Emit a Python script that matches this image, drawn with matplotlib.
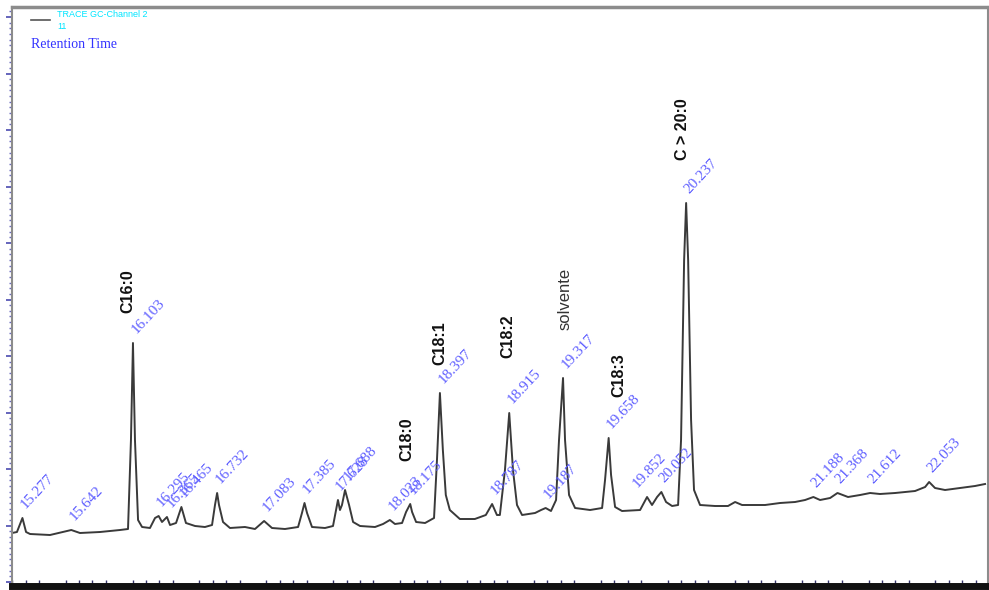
import matplotlib
matplotlib.use("Agg")
import matplotlib.pyplot as plt
from matplotlib.ticker import MultipleLocator, AutoMinorLocator, NullFormatter


# ============================ #
# Chromatogram trace
# ============================ #
trace_time = [
    15.199, 15.236, 15.277, 15.304, 15.334, 15.483, 15.642, 15.707, 15.857, 16.006,
    16.066, 16.088, 16.103, 16.118, 16.141, 16.171, 16.230, 16.268, 16.295, 16.320,
    16.357, 16.380, 16.425, 16.465, 16.499, 16.567, 16.641, 16.694, 16.716, 16.732,
    16.746, 16.776, 16.828, 16.940, 17.015, 17.083, 17.142, 17.239, 17.337, 17.366,
    17.385, 17.404, 17.441, 17.538, 17.598, 17.628, 17.635, 17.650, 17.665, 17.688,
    17.718, 17.748, 17.800, 17.912, 17.972, 18.023, 18.061, 18.114, 18.144, 18.175,
    18.189, 18.219, 18.286, 18.353, 18.375, 18.397, 18.419, 18.441, 18.471, 18.546,
    18.658, 18.740, 18.787, 18.823, 18.845, 18.883, 18.915, 18.943, 18.973, 19.011,
    19.108, 19.153, 19.187, 19.227, 19.265, 19.287, 19.317, 19.332, 19.362, 19.407,
    19.519, 19.609, 19.631, 19.658, 19.676, 19.706, 19.758, 19.893, 19.945, 19.982,
    20.020, 20.052, 20.087, 20.132, 20.177, 20.199, 20.222, 20.237, 20.252, 20.274,
    20.296, 20.341, 20.453, 20.550, 20.603, 20.655, 20.730, 20.827, 20.939, 21.051,
    21.126, 21.188, 21.238, 21.313, 21.368, 21.447, 21.537, 21.612, 21.686, 21.799,
    21.948, 22.023, 22.053, 22.097, 22.172, 22.284, 22.396, 22.471,
]
trace_signal = [
    49, 50, 64, 50, 48, 47, 52, 49, 50, 52,
    53, 142, 239, 142, 62, 55, 54, 64, 66, 60,
    65, 57, 59, 75, 59, 56, 55, 57, 77, 89,
    77, 60, 54, 55, 53, 61, 54, 53, 55, 69,
    79, 69, 55, 54, 56, 77, 82, 72, 77, 92,
    77, 60, 56, 55, 58, 62, 58, 59, 70, 78,
    70, 60, 59, 64, 122, 189, 132, 87, 72, 63,
    63, 67, 78, 67, 67, 112, 169, 112, 77, 67,
    69, 72, 74, 71, 82, 142, 204, 142, 87, 74,
    72, 74, 102, 144, 107, 75, 71, 72, 85, 77,
    85, 90, 80, 76, 77, 142, 322, 379, 322, 162,
    92, 77, 76, 76, 80, 77, 77, 77, 79, 80,
    82, 85, 82, 84, 89, 85, 87, 89, 88, 89,
    91, 95, 100, 94, 92, 94, 96, 98,
]

# Retention-time labels (blue) and the signal at each labelled apex
peak_times = [
    15.277, 15.642, 16.103, 16.295, 16.365, 16.465, 16.732, 17.083, 17.385, 17.628,
    17.688, 18.023, 18.175, 18.397, 18.787, 18.915, 19.187, 19.317, 19.658, 19.852,
    20.052, 20.237, 21.188, 21.368, 21.612, 22.053,
]
peak_heights = [
    64, 52, 239, 66, 65, 75, 89, 61, 79, 82,
    92, 62, 78, 189, 78, 169, 74, 204, 144, 85,
    90, 379, 85, 89, 89, 100,
]

# Component names (black) and where they are written
compounds = ["C16:0", "C18:0", "C18:1", "C18:2", "solvente", "C18:3", "C > 20:0"]
compound_bold = [True, True, True, True, False, True, True]
compound_pos = [
    (16.065, 269), (18.151, 121), (18.397, 217), (18.907, 224),
    (19.332, 252), (19.734, 185), (20.207, 422),
]

# ============================ #
# Figure                       #
# ============================ #
fig = plt.figure(figsize=(9.89, 5.90), dpi=100)
ax = fig.add_axes([12 / 989, 4 / 590, 976 / 989, 579 / 590])

ax.plot(trace_time, trace_signal, color="#3a3a3a", lw=1.4)

ax.set_xlim(15.199, 22.493)
ax.set_ylim(-4, 575)

# retention time labels
for t, h in zip(peak_times, peak_heights):
    ax.annotate(
        f"{t:.3f}",
        (t, h),
        textcoords="offset points",
        xytext=(4, 5),
        rotation=47,
        rotation_mode="anchor",
        ha="left",
        va="bottom",
        color="#5e5eff",
        fontsize=11,
        family="Liberation Serif",
    )

# compound names
for name, bold, (x, y) in zip(compounds, compound_bold, compound_pos):
    ax.text(
        x, y, name,
        rotation=90,
        ha="center",
        va="bottom",
        fontsize=11.5 if bold else 12,
        fontweight="bold" if bold else "normal",
        color="#111111" if bold else "#333333",
        family="Liberation Sans",
    )

# header (legend-like)
ax.plot([0.0195, 0.039], [0.977, 0.977], color="#555555", lw=1.2, transform=ax.transAxes)
ax.text(0.046, 0.987, "TRACE GC-Channel 2", transform=ax.transAxes, color="#00e5ff",
        fontsize=6.5, va="center", ha="left", family="Liberation Sans")
ax.text(0.046, 0.966, "11", transform=ax.transAxes, color="#00e5ff",
        fontsize=6.5, va="center", ha="left", family="Liberation Sans")
ax.text(0.0195, 0.936, "Retention Time", transform=ax.transAxes, color="#3333ff",
        fontsize=10, va="center", ha="left", family="Liberation Serif")

# axes frame
for side in ["top", "right", "left"]:
    ax.spines[side].set_color("#8c8c8c")
ax.spines["top"].set_linewidth(2.5)
ax.spines["right"].set_linewidth(1.5)
ax.spines["left"].set_linewidth(1.5)
ax.spines["bottom"].set_color("#111111")
ax.spines["bottom"].set_linewidth(5)

ax.xaxis.set_major_locator(MultipleLocator(0.5))
ax.xaxis.set_minor_locator(MultipleLocator(0.1))
ax.yaxis.set_major_locator(MultipleLocator(56.5))
ax.yaxis.set_minor_locator(AutoMinorLocator(10))
ax.xaxis.set_major_formatter(NullFormatter())
ax.yaxis.set_major_formatter(NullFormatter())
ax.tick_params(axis="x", which="major", length=0)
ax.tick_params(axis="x", which="minor", direction="in", length=4, color="#33336a", width=1)
ax.tick_params(axis="y", which="major", direction="out", length=4, color="#4a4ab0", width=1.2)
ax.tick_params(axis="y", which="minor", direction="out", length=2.5, color="#6a6ac0", width=1)

fig.savefig("out.png", dpi=100)
